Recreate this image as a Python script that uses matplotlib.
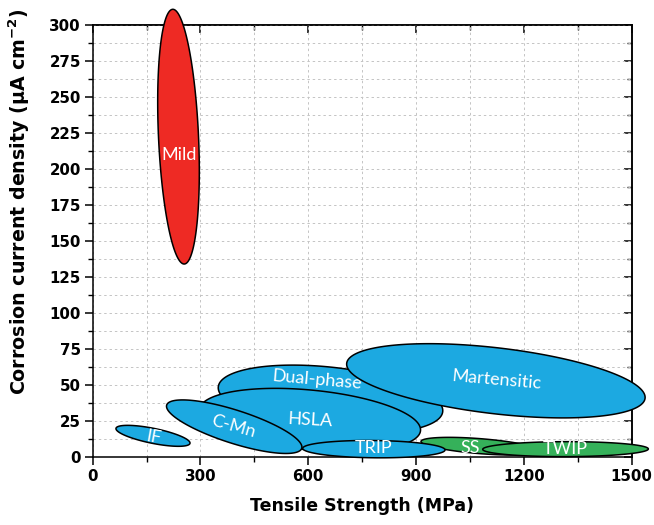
import numpy as np
import matplotlib
matplotlib.use("Agg")
import matplotlib.pyplot as plt
from matplotlib.patches import Polygon

# ---------------- data ----------------
steels = ["Dual-phase", "HSLA", "C-Mn", "IF", "Martensitic", "SS", "TRIP", "TWIP", "Mild"]
# major-axis end points (MPa, uA cm-2)
end1_x = [349.6, 297.2, 206.0, 64.9, 706.9, 913.7, 584.5, 1085.4, 255.0]
end1_y = [48.6, 32.9, 35.9, 19.7, 64.9, 10.6, 5.8, 5.1, 133.9]
end2_x = [974.1, 912.3, 581.7, 270.8, 1537.2, 1245.0, 980.5, 1546.3, 222.7]
end2_y = [31.3, 18.1, 5.8, 9.3, 40.6, 4.0, 4.7, 5.4, 310.9]
# minor semi-axis (in uA cm-2 equivalent of the y scale)
minor_half = [22.2, 20.8, 11.5, 5.2, 22.9, 5.2, 6.0, 5.2, 13.9]
groups = ["blue", "blue", "blue", "blue", "blue", "green", "blue", "green", "red"]
# label positions and tilt
label_x = [623, 605, 391, 170.6, 1124, 1050, 781, 1314, 240]
label_y = [53.3, 25.5, 20.8, 13.5, 53.3, 5.8, 5.8, 5.1, 209.7]
label_rot = [-5, -3, -16, -10, -5, 0, 0, 0, 0]

x_ticks = [0, 300, 600, 900, 1200, 1500]
y_ticks = list(range(0, 301, 25))

colors = {"blue": "#1CA9E1", "green": "#35B15A", "red": "#EE2A24"}

# ---------------- figure ----------------
fig = plt.figure(figsize=(6.54, 5.25), dpi=100)
ax = fig.add_axes([0.1417, 0.1301, 0.9659 - 0.1417, 0.9524 - 0.1301])
ax.set_xlim(0, 1500)
ax.set_ylim(0, 300)

tick_font = dict(family="DejaVu Sans", weight="bold", size=10.8)
ax.set_xticks(x_ticks)
ax.set_yticks(y_ticks)
ax.set_xticks(np.arange(150, 1500, 300), minor=True)
ax.set_yticks(np.arange(12.5, 300, 25), minor=True)
ax.set_xticklabels([str(v) for v in x_ticks], fontdict=tick_font)
ax.set_yticklabels([str(v) for v in y_ticks], fontdict=tick_font)
ax.tick_params(which="major", direction="out", length=5.5, width=1.1, pad=3.0)
ax.tick_params(which="minor", direction="out", length=3.5, width=1.0)
for s in ax.spines.values():
    s.set_linewidth(1.1)

# mirrored ticks on top/right pointing inward
sec_x = ax.secondary_xaxis("top")
sec_x.set_xticks(x_ticks)
sec_x.set_xticks(np.arange(150, 1500, 300), minor=True)
sec_x.tick_params(which="both", direction="in", labeltop=False)
sec_x.tick_params(which="major", length=5.5, width=1.1)
sec_x.tick_params(which="minor", length=3.5, width=1.0)
sec_y = ax.secondary_yaxis("right")
sec_y.set_yticks(y_ticks)
sec_y.set_yticks(np.arange(12.5, 300, 25), minor=True)
sec_y.tick_params(which="both", direction="in", labelright=False)
sec_y.tick_params(which="major", length=5.5, width=1.1)
sec_y.tick_params(which="minor", length=3.5, width=1.0)
sec_x.spines["top"].set_linewidth(1.1)
sec_y.spines["right"].set_linewidth(1.1)

ax.grid(True, which="both", color="#c4c4c4", linestyle=(0, (2.5, 3)), linewidth=0.7)
ax.set_axisbelow(True)

ax.set_xlabel("Tensile Strength (MPa)", family="DejaVu Sans", weight="bold", size=12.5, labelpad=10)
ax.set_ylabel("Corrosion current density (\u00b5A cm$^{\\mathbf{-2}}$)", family="DejaVu Sans",
              weight="bold", size=13.7)
ax.yaxis.set_label_coords(-0.112, 0.59)

# ---------------- ellipses ----------------
T = ax.transData
py_per_unit = (T.transform((0, 1)) - T.transform((0, 0)))[1]
t = np.linspace(0, 2 * np.pi, 400)
for i in range(len(steels)):
    p1 = T.transform((end1_x[i], end1_y[i]))
    p2 = T.transform((end2_x[i], end2_y[i]))
    c = (p1 + p2) / 2
    d = p2 - p1
    a = np.hypot(*d) / 2
    u = d / (2 * a)
    v = np.array([-u[1], u[0]])
    b = minor_half[i] * py_per_unit
    pts = c + np.outer(a * np.cos(t), u) + np.outer(b * np.sin(t), v)
    pts_data = T.inverted().transform(pts)
    poly = Polygon(pts_data, closed=True, facecolor=colors[groups[i]], edgecolor="black",
                   linewidth=1.1, zorder=3 + i * 0.1, clip_on=False)
    ax.add_patch(poly)
    ax.text(label_x[i], label_y[i], steels[i], color="white", family="Lato", size=13,
            ha="center", va="center", rotation=label_rot[i], rotation_mode="anchor",
            zorder=3 + i * 0.1 + 0.05)

fig.savefig("out.png", dpi=100)
